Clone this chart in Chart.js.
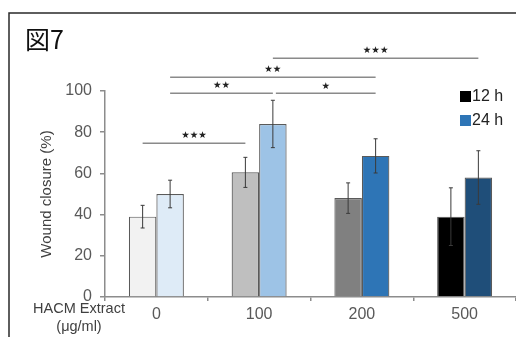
<!DOCTYPE html>
<html lang="ja">
<head>
    <meta charset="UTF-8">
    <title>図7</title>
    <script src="https://cdn.jsdelivr.net/npm/chart.js"></script>
    <style>
        body { margin: 0; padding: 0; background: #fff; }
        .wrap { width: 516px; height: 337px; position: relative; }
    </style>
</head>
<body>
    <div class="wrap"><canvas id="woundChart" width="516" height="337"></canvas></div>

    <script>
        // data
        const categories = ['0', '100', '200', '500'];
        const closure12h = [39, 60.5, 48, 39];
        const closure24h = [50, 84, 68.5, 58];
        const err12h = [5.5, 7.3, 7.4, 14];
        const err24h = [6.7, 11.5, 8.3, 13];
        const colors12h = ['#f2f2f2', '#bfbfbf', '#808080', '#000000'];
        const colors24h = ['#deebf7', '#9dc3e6', '#2e75b6', '#1f4e79'];
        const legendLabels = ['12 h', '24 h'];

        // significance brackets: [category, dataset] at each end, height in %
        const brackets = [
            { from: [0, 0], to: [1, 0], y: 74.6, stars: '★★★', starY: 78.2 },
            { from: [0, 1], to: [1, 1], y: 98.9, stars: '★★', starY: 102.6 },
            { from: [1, 1], to: [2, 1], y: 98.9, stars: '★', starY: 102.2, gap: 3 },
            { from: [0, 1], to: [2, 1], y: 106.7, stars: '★★', starY: 110.4 },
            { from: [1, 1], to: [3, 1], y: 115.9, stars: '★★★', starY: 119.6 }
        ];

        const FONT = "'Liberation Sans', Arial, sans-serif";

        const extras = {
            id: 'extras',
            beforeDraw(chart) {
                const ctx = chart.ctx;
                ctx.save();
                ctx.fillStyle = '#fff';
                ctx.fillRect(0, 0, chart.width, chart.height);
                // frame
                ctx.strokeStyle = '#2a2a2a';
                ctx.lineWidth = 1.5;
                ctx.beginPath();
                ctx.moveTo(9, 340);
                ctx.lineTo(9, 13);
                ctx.lineTo(520, 13);
                ctx.stroke();
                // figure number
                ctx.fillStyle = '#111';
                ctx.font = "25px 'Noto Sans CJK JP'";
                ctx.textBaseline = 'alphabetic';
                ctx.fillText('図7', 25, 49);
                ctx.restore();
            },
            afterDatasetsDraw(chart) {
                const ctx = chart.ctx;
                const y = chart.scales.y;
                const errs = [err12h, err24h];
                const vals = [closure12h, closure24h];
                ctx.save();
                ctx.strokeStyle = '#3a3a3a';
                ctx.lineWidth = 1;
                for (let d = 0; d < 2; d++) {
                    const meta = chart.getDatasetMeta(d);
                    meta.data.forEach((bar, i) => {
                        const top = y.getPixelForValue(vals[d][i] + errs[d][i]);
                        const bot = y.getPixelForValue(vals[d][i] - errs[d][i]);
                        ctx.beginPath();
                        ctx.moveTo(bar.x, top); ctx.lineTo(bar.x, bot);
                        ctx.moveTo(bar.x - 2, top); ctx.lineTo(bar.x + 2, top);
                        ctx.moveTo(bar.x - 2, bot); ctx.lineTo(bar.x + 2, bot);
                        ctx.stroke();
                    });
                }
                ctx.restore();
            },
            afterDraw(chart) {
                const ctx = chart.ctx;
                const y = chart.scales.y;
                const barX = (c, d) => chart.getDatasetMeta(d).data[c].x;
                ctx.save();
                // brackets
                brackets.forEach(b => {
                    const x1 = barX(b.from[0], b.from[1]) + (b.gap || 0);
                    const x2 = barX(b.to[0], b.to[1]);
                    const py = y.getPixelForValue(b.y);
                    ctx.strokeStyle = '#8a8a8a';
                    ctx.lineWidth = 1.5;
                    ctx.beginPath();
                    ctx.moveTo(x1, py); ctx.lineTo(x2, py);
                    ctx.stroke();
                    ctx.fillStyle = '#222';
                    ctx.font = "9.5px 'DejaVu Sans'";
                    ctx.textAlign = 'center';
                    ctx.textBaseline = 'middle';
                    ctx.fillText(b.stars, (x1 + x2) / 2, y.getPixelForValue(b.starY));
                });
                // legend
                const legendColors = ['#000000', '#2e75b6'];
                ctx.font = '16px ' + FONT;
                ctx.textAlign = 'left';
                ctx.textBaseline = 'middle';
                legendLabels.forEach((t, i) => {
                    const ly = 96 + i * 24;
                    ctx.fillStyle = legendColors[i];
                    ctx.fillRect(460, ly - 5, 11, 11);
                    ctx.fillStyle = '#222';
                    ctx.fillText(t, 472, ly + 1);
                });
                // x axis caption
                ctx.fillStyle = '#404040';
                ctx.font = '14.5px ' + FONT;
                ctx.textAlign = 'center';
                ctx.fillText('HACM Extract', 79, 309);
                ctx.fillText('(μg/ml)', 79, 327);
                ctx.restore();
            }
        };

        new Chart(document.getElementById('woundChart'), {
            type: 'bar',
            data: {
                labels: categories,
                datasets: [
                    { label: legendLabels[0], data: closure12h, backgroundColor: colors12h },
                    { label: legendLabels[1], data: closure24h, backgroundColor: colors24h }
                ]
            },
            options: {
                responsive: false,
                animation: false,
                events: [],
                layout: { padding: { top: 91, left: 9, right: 0, bottom: 0 } },
                datasets: {
                    bar: {
                        categoryPercentage: 0.535,
                        barPercentage: 1,
                        borderColor: '#5a5a5a',
                        borderWidth: 1.2
                    }
                },
                plugins: { legend: { display: false }, tooltip: { enabled: false } },
                scales: {
                    x: {
                        afterFit: s => { s.height = 40; },
                        grid: { drawOnChartArea: false, tickLength: 4, color: '#8c8c8c', lineWidth: 1.5 },
                        border: { color: '#8c8c8c', width: 1.5 },
                        ticks: { color: '#595959', font: { size: 16, family: FONT }, padding: 4 }
                    },
                    y: {
                        min: 0, max: 100,
                        afterFit: s => { s.width = 96; },
                        grid: { drawOnChartArea: false, tickLength: 5, color: '#8c8c8c', lineWidth: 1.5 },
                        border: { color: '#8c8c8c', width: 1.5 },
                        ticks: { stepSize: 20, color: '#595959', font: { size: 16, family: FONT }, padding: 8 },
                        title: {
                            display: true,
                            text: 'Wound closure (%)',
                            color: '#404040',
                            font: { size: 15, family: FONT },
                            padding: { top: 29, bottom: 0 }
                        }
                    }
                }
            },
            plugins: [extras]
        });
    </script>
</body>
</html>
